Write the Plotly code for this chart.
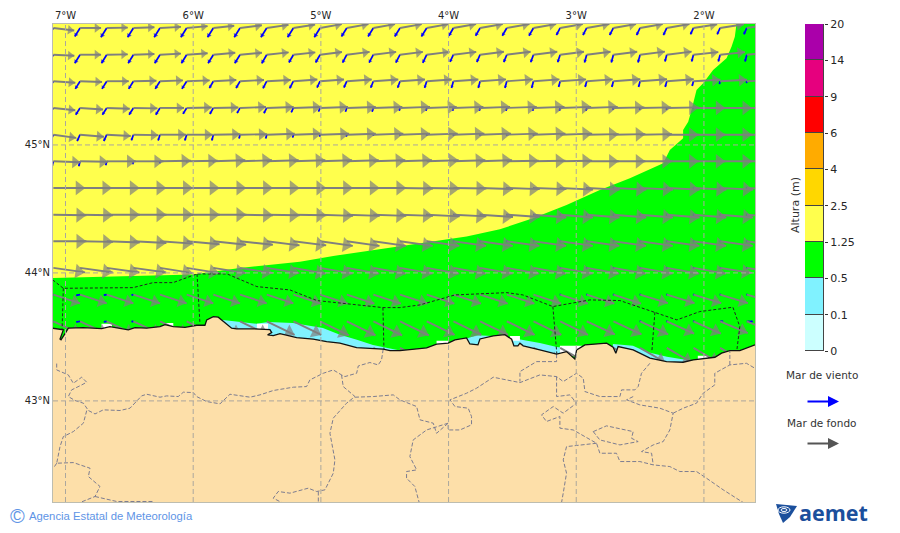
import math
import plotly.graph_objects as go

# map window
lon_range = [-7.098, -1.6]
lat_range = [42.21, 45.945]
lon_ticks = [-7, -6, -5, -4, -3, -2]
lon_labels = ["7°W", "6°W", "5°W", "4°W", "3°W", "2°W"]
lat_ticks = [43, 44, 45]
lat_labels = ["43°N", "44°N", "45°N"]

# wave height zones (lon/lat outlines)
green_lon = [-7.10, -6.417, -6.002, -5.634, -5.164, -4.903, -4.642, -4.381, -4.122, -3.859, -3.598, -3.339, -3.076,
             -2.815, -2.580, -2.319, -2.267, -2.163, -2.163, -2.123, -2.097, -2.058, -2.006, -1.928, -1.823, -1.784,
             -1.758, -1.745, -1.6, -1.6, -7.10]
green_lat = [43.961, 43.977, 43.988, 44.039, 44.088, 44.133, 44.172, 44.211, 44.245, 44.284, 44.341, 44.427, 44.531,
             44.648, 44.740, 44.857, 44.961, 45.052, 45.117, 45.182, 45.273, 45.430, 45.482, 45.586, 45.677, 45.768,
             45.846, 45.945, 45.945, 42.21, 42.21]
cyan_lon = [-5.767, -5.501, -5.414, -5.219, -4.984, -4.851, -4.718, -4.592, -4.381, -4.381, -5.767, None,
            -3.872, -3.778, -3.661, -3.661, -3.872, None,
            -3.504, -3.418, -3.285, -3.152, -3.09, -3.09, -3.504, None,
            -2.713, -2.556, -2.447, -2.290, -2.134, -2.134, -2.713]
cyan_lat = [43.633, 43.602, 43.617, 43.609, 43.570, 43.516, 43.477, 43.4375, 43.393, 43.30, 43.50, None,
            43.484, 43.512, 43.508, 43.44, 43.44, None,
            43.492, 43.477, 43.453, 43.422, 43.414, 43.30, 43.40, None,
            43.445, 43.430, 43.383, 43.344, 43.320, 43.25, 43.30]
white_lon = [-6.718, -6.636, -6.636, -6.718, None, -6.221, -6.156, -6.156, -6.221, None,
             -5.501, -5.414, -5.414, -5.501, None, -4.094, -4.003, -4.003, -4.094, None,
             -3.519, -3.441, -3.441, -3.519, None, -3.128, -2.956, -2.956, -3.128, None,
             -2.048, -1.969, -1.969, -2.048]
white_lat = [43.602, 43.602, 43.56, 43.56, None, 43.609, 43.609, 43.578, 43.578, None,
             43.602, 43.602, 43.56, 43.56, None, 43.469, 43.469, 43.4375, 43.4375, None,
             43.508, 43.508, 43.469, 43.469, None, 43.43, 43.43, 43.35, 43.35, None,
             43.352, 43.352, 43.32, 43.32]

# coastline west to east
coast_lon = [-7.10, -7.043, -7.017, -7.043, -7.035, -7.0, -6.978, -6.861, -6.717, -6.652, -6.573, -6.508, -6.456,
             -6.364, -6.260, -6.221, -6.156, -6.064, -5.973, -5.908, -5.894, -5.843, -5.804, -5.751, -5.699,
             -5.660, -5.530, -5.399, -5.385, -5.417, -5.373, -5.320, -5.190, -5.060, -4.955, -4.851, -4.720,
             -4.512, -4.459, -4.381, -4.250, -4.172, -4.094, -4.003, -3.950, -3.859, -3.833, -3.770, -3.754,
             -3.650, -3.559, -3.506, -3.488, -3.457, -3.441, -3.415, -3.285, -3.154, -3.076, -3.011, -2.997,
             -2.932, -2.762, -2.711, -2.690, -2.672, -2.554, -2.423, -2.293, -2.163, -2.084, -1.979, -1.914,
             -1.862, -1.797, -1.719, -1.6]
coast_lat = [43.568, 43.560, 43.555, 43.484, 43.477, 43.531, 43.568, 43.573, 43.565, 43.580, 43.568, 43.555, 43.573,
             43.568, 43.580, 43.596, 43.580, 43.575, 43.591, 43.591, 43.633, 43.659, 43.654, 43.607, 43.568,
             43.563, 43.563, 43.557, 43.534, 43.516, 43.510, 43.526, 43.495, 43.482, 43.463, 43.451, 43.416,
             43.404, 43.393, 43.393, 43.409, 43.414, 43.443, 43.451, 43.477, 43.492, 43.445, 43.4375, 43.484,
             43.508, 43.518, 43.482, 43.43, 43.43, 43.451, 43.430, 43.398, 43.365, 43.385, 43.328, 43.398,
             43.4375, 43.451, 43.420, 43.373, 43.424, 43.398, 43.334, 43.307, 43.302, 43.320, 43.334, 43.341,
             43.373, 43.393, 43.393, 43.4375]
land_corner_lon = [-1.6, -7.10]
land_corner_lat = [42.21, 42.21]

# maritime zones
zone_lon = [-7.10, -7.017, -6.471, -6.315, -6.158, -5.970, -5.735, -5.501, -5.242, -5.031, -4.514, -4.381, -4.224,
            -3.95, -3.543, -3.418, -3.183, -2.893, -2.658, -2.384, -2.212, -2.032, -1.773, -1.719, -1.742, None,
            -7.017, -7.027, None, -5.970, -5.947, None, -4.514, -4.506, None, -3.183, -3.152, None, -2.384, -2.408]
zone_lat = [43.945, 43.880, 43.885, 43.924, 43.924, 43.992, 43.992, 43.893, 43.867, 43.784, 43.729, 43.729, 43.75,
            43.828, 43.846, 43.828, 43.737, 43.789, 43.784, 43.693, 43.633, 43.698, 43.732, 43.580, 43.398, None,
            43.880, 43.555, None, 43.992, 43.602, None, 43.729, 43.406, None, 43.737, 43.367, None, 43.693, 43.383]

# province borders
border_lon = [-4.512, -4.525, -4.551, -4.616, -4.707, -4.720, -4.812, -4.838, -4.903, -4.981, -5.086, -5.112, -5.216,
              -5.373, -5.477, -5.555, -5.712, -5.790, -5.895, -5.973, -5.999, -6.077, -6.117, -6.208, -6.260, -6.365,
              -6.404, -6.456, -6.495, -6.573, -6.704, -6.769, -6.821, -6.860, -6.926, -6.978, -6.952, -6.873, -6.834,
              -6.873, -6.939, -6.978, -7.069, -7.069, None,
              -6.834, -6.860, -6.939, -7.017, -7.043, -7.069, -6.939, -6.808, -6.821, -6.730, -6.769, -6.886, None,
              -7.069, -7.095, None, -6.769, -6.599, -6.312, None,
              -4.838, -4.825, -4.733, -4.799, -4.903, -4.929, -4.890, -4.903, -4.968, -5.033, -5.099, -5.242, -5.334,
              -5.373, -5.307, None, -5.020, -5.020, None,
              -4.733, -4.590, -4.433, -4.381, -4.250, -4.224, -4.120, -4.094, -4.003, -4.003, -3.911, -3.820, -3.820,
              -3.846, -3.950, -3.989, -3.859, -3.781, -3.650, -3.441, -3.285, -3.154, -3.102, -2.998, -2.945, -2.932,
              -2.815, -2.658, -2.645, -2.541, -2.515, -2.489, -2.423, None,
              -3.154, -3.154, -3.311, -3.441, -3.441, None,
              -3.154, -3.154, -3.050, -2.998, -3.102, -3.180, -3.272, -3.233, -3.128, -3.128, -3.024, -2.841, -2.815,
              -2.685, -2.658, -2.502, -2.397, -2.267, -2.189, -2.058, -1.980, -1.849, -1.693, None,
              -2.554, -2.606, -2.502, -2.345, -2.241, -2.267, -2.319, -2.397, -2.489, -2.410, -2.397, None,
              -2.241, -2.162, -2.058, -2.006, -1.915, -1.915, -1.797, -1.667, -1.601, None,
              -1.797, -1.797, None,
              -2.867, -2.763, -2.554, -2.567, -2.515, -2.658, -2.815, -2.867, None,
              -2.841, -3.076, -3.102, -3.076, -3.102, -3.115, None,
              -4.003, -4.172, -4.277, -4.303, -4.250, -4.329, -4.329, -4.264, -4.230]
border_lat = [43.404, 43.320, 43.281, 43.300, 43.273, 43.216, 43.190, 43.203, 43.242, 43.216, 43.164, 43.112, 43.107,
              43.081, 43.047, 43.029, 43.052, 42.977, 42.995, 43.034, 43.065, 43.068, 43.034, 43.039, 43.029, 43.052,
              43.039, 42.982, 42.943, 42.925, 42.930, 42.898, 42.925, 42.982, 43.003, 43.034, 43.086, 43.125, 43.146,
              43.185, 43.138, 43.203, 43.242, 43.307, None,
              42.924, 42.826, 42.760, 42.721, 42.643, 42.513, 42.518, 42.474, 42.409, 42.331, 42.253, 42.206, None,
              42.513, 42.474, None, 42.253, 42.214, 42.214, None,
              43.203, 43.112, 43.034, 42.982, 42.865, 42.747, 42.539, 42.435, 42.305, 42.292, 42.318, 42.279, 42.292,
              42.240, 42.206, None, 42.292, 42.206, None,
              43.029, 43.034, 43.047, 43.008, 42.956, 42.852, 42.826, 42.747, 42.826, 42.773, 42.773, 42.813, 42.878,
              42.943, 42.956, 43.008, 43.060, 43.099, 43.185, 43.143, 43.203, 43.190, 43.151, 43.216, 43.177, 43.073,
              43.034, 43.034, 43.086, 43.086, 43.112, 43.216, 43.294, None,
              43.365, 43.307, 43.307, 43.229, 43.151, None,
              43.190, 43.034, 43.047, 42.982, 42.904, 42.956, 42.891, 42.839, 42.878, 42.787, 42.773, 42.669, 42.591,
              42.591, 42.526, 42.526, 42.500, 42.487, 42.448, 42.448, 42.396, 42.305, 42.206, None,
              43.034, 43.008, 42.969, 42.943, 42.904, 42.773, 42.682, 42.656, 42.604, 42.591, 42.500, None,
              42.904, 42.943, 42.982, 43.060, 43.125, 43.216, 43.281, 43.294, 43.255, None,
              43.281, 43.386, None,
              42.760, 42.805, 42.760, 42.708, 42.682, 42.656, 42.695, 42.760, None,
              42.669, 42.643, 42.539, 42.435, 42.279, 42.206, None,
              42.826, 42.773, 42.695, 42.565, 42.461, 42.448, 42.396, 42.331, 42.206]

# arrow grid
grid_lon = [-7.095, -6.886, -6.677, -6.468, -6.260, -6.051, -5.842, -5.633, -5.424, -5.215, -5.006, -4.797, -4.589,
            -4.380, -4.171, -3.962, -3.753, -3.544, -3.335, -3.126, -2.918, -2.709, -2.500, -2.291, -2.082, -1.873,
            -1.664]
grid_lat = [45.914, 45.705, 45.498, 45.289, 45.080, 44.872, 44.664, 44.455, 44.247, 44.039, 43.830, 43.622, 43.414]

# swell (mar de fondo): bearing in degrees and size, one list per grid row
swell_dir = [
    [97, 90, 89, 88, 87, 85, 84, 83, 82, 81, 80, 80, 80, 80, 80, 80, 80, 80, 80, 80, 80, 80, 80, 80, 81, 81, 82],
    [93, 90, 89, 88, 87, 86, 85, 85, 84, 84, 83, 83, 83, 83, 83, 83, 83, 83, 83, 83, 83, 83, 83, 83, 84, 84, 85],
    [94, 92, 90, 89, 88, 88, 87, 87, 87, 86, 86, 86, 86, 86, 86, 86, 86, 86, 86, 86, 86, 86, 86, 86, 87, 87, 88],
    [96, 94, 92, 91, 90, 89, 89, 88, 88, 88, 88, 88, 88, 88, 88, 88, 88, 88, 88, 88, 88, 89, 89, 89, 90, 90, 90],
    [98, 95, 93, 91, 90, 90, 89, 89, 88, 88, 88, 88, 88, 88, 88, 88, 88, 88, 88, 88, 89, 89, 89, 90, 90, 90, 90],
    [92, 91, 90, 90, 89, 89, 88, 88, 88, 88, 88, 88, 88, 88, 88, 88, 88, 89, 89, 89, 90, 90, 90, 90, 90, 90, 90],
    [90, 90, 90, 90, 90, 90, 90, 90, 90, 90, 90, 90, 90, 91, 91, 91, 92, 92, 92, 93, 93, 93, 93, 93, 93, 93, 93],
    [91, 91, 90, 90, 90, 90, 90, 91, 91, 91, 92, 92, 92, 92, 93, 93, 94, 94, 95, 95, 95, 95, 95, 95, 95, 95, 95],
    [90, 91, 92, 93, 94, 95, 96, 96, 97, 97, 98, 98, 98, 98, 98, 98, 98, 98, 98, 98, 98, 98, 98, 98, 98, 98, 98],
    [98, 98, 98, 98, 99, 99, 99, 99, 99, 100, 100, 100, 100, 100, 100, 100, 100, 100, 100, 100, 100, 100, 100, 100, 100, 99, 99],
    [108, 108, 108, 108, 108, 108, 108, 108, 108, 108, 108, 108, 108, 108, 108, 108, 108, 108, 108, 108, 108, 108, 107, 107, 107, 107, 106],
    [115, 115, 115, 115, 115, 116, 116, 116, 116, 116, 116, 116, 116, 116, 116, 116, 116, 116, 116, 116, 115, 115, 115, 114, 114, 113, 113],
    [118, 118, 118, 118, 118, 118, 118, 118, 118, 118, 118, 118, 118, 118, 118, 118, 118, 118, 118, 119, 119, 120, 120, 120, 120, 120, 120],
]
swell_size = [
    [21, 21, 21, 21, 21, 21, 21, 22, 22, 22, 22, 22, 22, 22, 22, 23, 23, 23, 23, 23, 23, 23, 23, 23, 24, 24, 24],
    [21, 21, 21, 21, 21, 21, 22, 22, 22, 22, 22, 23, 23, 23, 23, 23, 24, 24, 24, 24, 24, 24, 25, 25, 25, 25, 25],
    [22, 22, 22, 23, 23, 23, 23, 24, 24, 24, 24, 25, 25, 25, 25, 25, 26, 26, 26, 26, 26, 27, 27, 27, 27, 27, 27],
    [22, 23, 23, 24, 24, 25, 25, 26, 27, 28, 28, 29, 29, 30, 30, 30, 30, 30, 31, 31, 31, 31, 31, 32, 32, 32, 32],
    [23, 24, 24, 25, 26, 26, 27, 27, 28, 28, 29, 29, 30, 30, 31, 31, 31, 31, 32, 32, 32, 32, 32, 32, 32, 32, 32],
    [27, 28, 29, 30, 31, 31, 32, 32, 32, 32, 32, 32, 32, 32, 32, 32, 32, 32, 32, 32, 32, 32, 32, 32, 32, 32, 32],
    [32, 32, 33, 33, 33, 33, 33, 33, 33, 33, 33, 33, 33, 33, 33, 33, 33, 33, 33, 33, 33, 33, 33, 33, 33, 33, 33],
    [33, 33, 33, 33, 33, 33, 33, 33, 33, 33, 33, 33, 33, 33, 33, 33, 33, 33, 33, 33, 33, 33, 33, 33, 33, 33, 33],
    [33, 33, 33, 33, 33, 33, 33, 33, 33, 33, 33, 33, 33, 33, 33, 33, 33, 33, 33, 33, 33, 33, 33, 33, 33, 33, 33],
    [32, 33, 33, 33, 33, 33, 33, 33, 33, 33, 33, 33, 33, 33, 33, 33, 33, 33, 33, 33, 33, 33, 33, 33, 33, 32, 32],
    [28, 28, 28, 28, 28, 28, 28, 28, 28, 29, 29, 29, 29, 29, 29, 29, 29, 29, 29, 29, 29, 29, 29, 29, 29, 29, 29],
    [30, 30, 30, 30, 31, 31, 31, 31, 31, 31, 32, 32, 32, 32, 31, 31, 31, 31, 31, 31, 31, 31, 31, 30, 30, 30, 30],
    [29, 29, 29, 29, 29, 29, 29, 29, 29, 29, 29, 29, 29, 29, 29, 29, 29, 29, 29, 29, 29, 29, 29, 29, 29, 29, 29],
]

# wind sea (mar de viento), same grid
wind_dir = [
    [212, 212, 212, 212, 212, 212, 212, 212, 212, 212, 212, 212, 212, 212, 212, 210, 210, 210, 210, 208, 208, 208, 206, 205, 205, 205, 205],
    [212, 212, 212, 212, 212, 212, 212, 212, 210, 210, 210, 208, 208, 208, 206, 205, 204, 202, 200, 198, 196, 195, 195, 195, 195, 195, 195],
    [212, 212, 212, 212, 212, 212, 210, 210, 208, 208, 206, 204, 202, 200, 198, 196, 195, 195, 195, 195, 195, 195, 195, 195, 195, 195, 190],
    [213, 213, 213, 213, 212, 212, 210, 210, 208, 206, 204, 200, 198, 196, 195, 195, 195, 195, 195, 195, 195, 195, 195, 190, 190, 190, 190],
    [205, 205, 205, 200, 198, 198, 195, 195, 195, 195, 195, 195, 195, 190, 190, 190, 190, 190, 190, 190, 190, 190, 190, 190, 190, 190, 190],
    [195, 195, 195, 195, 190, 190, 190, 190, 190, 190, 190, 190, 190, 190, 190, 190, 190, 190, 190, 190, 190, 190, 190, 190, 190, 190, 190],
    [90, 90, 90, 90, 90, 90, 90, 90, 90, 90, 90, 90, 90, 90, 90, 90, 90, 90, 90, 90, 90, 90, 90, 90, 90, 90, 90],
    [90, 90, 90, 90, 90, 90, 90, 90, 90, 90, 90, 90, 90, 90, 90, 90, 90, 90, 90, 90, 90, 90, 90, 90, 90, 90, 90],
    [90, 90, 90, 90, 90, 90, 90, 90, 90, 90, 90, 90, 90, 90, 90, 90, 90, 90, 90, 90, 90, 90, 90, 90, 90, 90, 90],
    [90, 90, 90, 90, 90, 90, 90, 90, 90, 90, 90, 90, 90, 90, 90, 90, 90, 90, 90, 90, 90, 90, 90, 90, 90, 90, 90],
    [260, 260, 260, 260, 90, 90, 90, 90, 90, 90, 90, 90, 90, 90, 90, 90, 90, 90, 90, 90, 90, 90, 90, 90, 90, 90, 90],
    [260, 260, 260, 260, 90, 90, 90, 90, 90, 90, 90, 90, 90, 90, 90, 90, 90, 90, 90, 90, 90, 90, 90, 90, 90, 92, 92],
]
wind_size = [
    [10, 10, 11, 11, 11, 11, 11, 11, 11, 11, 11, 10, 10, 10, 10, 9, 9, 9, 9, 8, 8, 8, 8, 8, 7, 7, 7],
    [10, 10, 10, 10, 10, 10, 10, 10, 10, 9, 9, 9, 9, 9, 9, 8, 8, 8, 8, 8, 8, 8, 8, 7, 7, 7, 7],
    [9, 9, 9, 9, 9, 9, 8, 8, 8, 8, 7, 7, 7, 7, 7, 7, 7, 7, 7, 6, 6, 6, 6, 6, 5, 3, 2],
    [9, 8, 8, 8, 8, 7, 7, 6, 6, 5, 4, 4, 4, 3, 3, 3, 3, 3, 3, 3, 3, 2, 2, 2, 1, 1, 1],
    [7, 7, 7, 6, 6, 6, 6, 4, 4, 3, 2, 2, 1, 1, 1, 1, 1, 1, 1, 0, 0, 0, 0, 0, 0, 0, 0],
    [5, 5, 4, 3, 2, 1, 1, 0, 0, 0, 0, 0, 0, 0, 0, 0, 0, 0, 0, 0, 0, 0, 0, 0, 0, 0, 0],
    [0, 0, 0, 0, 0, 0, 0, 0, 0, 0, 0, 0, 0, 0, 0, 0, 1, 1, 1, 1, 1, 1, 1, 1, 1, 1, 1],
    [0, 0, 0, 0, 0, 0, 0, 0, 0, 0, 0, 0, 0, 0, 1, 1, 1, 1, 1, 1, 1, 1, 1, 1, 1, 1, 1],
    [0, 0, 0, 0, 0, 0, 0, 0, 0, 0, 0, 0, 0, 0, 0, 1, 1, 1, 1, 1, 1, 1, 1, 1, 1, 1, 1],
    [0, 0, 0, 0, 0, 0, 0, 0, 0, 0, 0, 0, 0, 0, 0, 0, 0, 0, 0, 1, 1, 1, 1, 1, 1, 1, 1],
    [2, 4, 3, 2, 0, 0, 0, 0, 0, 0, 0, 0, 0, 0, 0, 0, 0, 0, 0, 1, 1, 1, 1, 1, 1, 1, 1],
    [2, 4, 3, 2, 0, 0, 0, 0, 0, 0, 0, 0, 0, 0, 0, 0, 0, 0, 0, 0, 0, 0, 1, 1, 1, 3, 6],
]
wind_rows = [0, 1, 2, 3, 4, 5, 6, 7, 8, 9, 10, 11]

# colour scale
level_labels = ["0", "0.1", "0.5", "1.25", "2.5", "4", "6", "9", "14", "20"]
level_colors = ["#CCFFFF", "#80F2FF", "#00FF00", "#FFFF4D", "#FFD700", "#FFAB00", "#FF0000", "#E6007E", "#AA00AA"]

YELLOW = "#FFFF4D"
GREEN = "#00FF00"
CYAN = "#80F2FF"
LAND = "#FDDFA9"
PX_PER_DEG = 127.7
# the page body has an 8px margin, so the figure sits at (8, 8)
FIG_W = 892
FIG_H = 525


def px(x):
    return (x - 8) / FIG_W


def py(y):
    return 1 - (y - 8) / FIG_H


def area(lon, lat, color):
    return go.Scatter(x=lon, y=lat, mode="lines", fill="toself", fillcolor=color, line=dict(width=0),
                      hoverinfo="skip", showlegend=False)


def arrows(dirs, sizes, rows, color, width, head):
    # one trace for the shafts, one for the heads (land is painted on top of both)
    sx, sy, hx, hy, ang, hs = [], [], [], [], [], []
    for r, dir_row, size_row in zip(rows, dirs, sizes):
        for lon, d, s in zip(grid_lon, dir_row, size_row):
            if s == 0:
                continue
            lat = grid_lat[r]
            east = math.sin(math.radians(d)) / PX_PER_DEG
            north = math.cos(math.radians(d)) / PX_PER_DEG
            sx += [lon, lon + s * east, None]
            sy += [lat, lat + s * north, None]
            # triangle markers are centred half their size behind the tip
            marker_size = max(head * s, 2)
            hx.append(lon + (s - marker_size / 2) * east)
            hy.append(lat + (s - marker_size / 2) * north)
            ang.append(d)
            hs.append(marker_size)
    shafts = go.Scatter(x=sx, y=sy, mode="lines", line=dict(color=color, width=width),
                        hoverinfo="skip", showlegend=False)
    heads = go.Scatter(x=hx, y=hy, mode="markers",
                       marker=dict(symbol="triangle-up", size=hs, angle=ang, color=color, line=dict(width=0)),
                       hoverinfo="skip", showlegend=False)
    return [shafts, heads]


def label(text, x, y, size=10.5, color="#333333", family="DejaVu Sans", anchor="center", angle=0):
    fig.add_annotation(text=text, x=px(x), y=py(y), xref="paper", yref="paper", xanchor=anchor, yanchor="middle",
                       textangle=angle, showarrow=False, font=dict(family=family, size=size, color=color))


fig = go.Figure()

# sea
fig.add_trace(area([lon_range[0], lon_range[1], lon_range[1], lon_range[0]],
                   [lat_range[0], lat_range[0], lat_range[1], lat_range[1]], YELLOW))
fig.add_trace(area(green_lon, green_lat, GREEN))
fig.add_trace(area(cyan_lon, cyan_lat, CYAN))
fig.add_trace(area(white_lon, white_lat, "white"))

# arrows
fig.add_traces(arrows(wind_dir, wind_size, wind_rows, "#0000FF", 1.7, 0.42))
fig.add_traces(arrows(swell_dir, swell_size, range(len(grid_lat)), "#7F7F7F", 1.9, 0.4))

# land on top of the arrows
fig.add_trace(area(coast_lon + land_corner_lon, coast_lat + land_corner_lat, LAND))
fig.add_trace(go.Scatter(x=border_lon, y=border_lat, mode="lines", line=dict(color="#7C7C90", width=1, dash="4px,2px"),
                         hoverinfo="skip", showlegend=False))
fig.add_trace(go.Scatter(x=coast_lon, y=coast_lat, mode="lines", line=dict(color="#111111", width=1.3),
                         hoverinfo="skip", showlegend=False))
fig.add_trace(go.Scatter(x=zone_lon, y=zone_lat, mode="lines", line=dict(color="#222222", width=1, dash="3px,2px"),
                         hoverinfo="skip", showlegend=False))

# dashed graticule over everything
for lon in lon_ticks:
    fig.add_shape(type="line", xref="x", yref="y", x0=lon, x1=lon, y0=lat_range[0], y1=lat_range[1],
                  line=dict(color="#ABA79E", width=1, dash="5px,3px"))
for lat in lat_ticks:
    fig.add_shape(type="line", xref="x", yref="y", x0=lon_range[0], x1=lon_range[1], y0=lat, y1=lat,
                  line=dict(color="#ABA79E", width=1, dash="5px,3px"))

# colour bar
for color in level_colors:
    fig.add_trace(go.Bar(x=[0], y=[1], marker=dict(color=color, line=dict(color="#444444", width=1)),
                         xaxis="x2", yaxis="y2", hoverinfo="skip", showlegend=False))

label("Altura (m)", 795, 205, size=11, angle=-90)
label("Mar de viento", 821.5, 375)
label("Mar de fondo", 821.5, 423)
fig.add_annotation(text="", x=px(839), y=py(401.5), xref="paper", yref="paper", ax=-33, ay=0,
                   arrowhead=2, arrowsize=1.1, arrowwidth=2, arrowcolor="#0000FF", showarrow=True)
fig.add_annotation(text="", x=px(839), y=py(443.5), xref="paper", yref="paper", ax=-33, ay=0,
                   arrowhead=2, arrowsize=1.1, arrowwidth=2, arrowcolor="#555555", showarrow=True)

# footer
label("©", 17, 515.5, size=20, color="#5E94E6", family="Liberation Sans")
label("Agencia Estatal de Meteorología", 26.5, 516, size=11.3, color="#5E94E6", family="Liberation Sans", anchor="left")
label("<b>aemet</b>", 797, 512, size=21.5, color="#1B4F9C", family="Open Sans", anchor="left")

# aemet mark
logo_blue = "#1B4F9C"
fig.add_shape(type="path", xref="paper", yref="paper", fillcolor=logo_blue, line=dict(width=0),
              path=f"M{px(776)},{py(504)} L{px(797)},{py(506)} L{px(790)},{py(517)} L{px(783)},{py(523)} "
                   f"L{px(779)},{py(514)} Z")
for rx, ry in [(6, 3.2), (3, 1.5)]:
    fig.add_shape(type="circle", xref="paper", yref="paper", line=dict(color="white", width=1),
                  x0=px(784 - rx), x1=px(784 + rx), y0=py(510 + ry), y1=py(510 - ry))

fig.update_layout(
    width=FIG_W,
    height=FIG_H,
    margin=dict(l=0, r=0, t=0, b=0),
    paper_bgcolor="white",
    plot_bgcolor="white",
    barmode="stack",
    bargap=0,
    font=dict(family="DejaVu Sans", size=10, color="#262626"),
    xaxis=dict(domain=[px(53), px(755)], range=lon_range, side="top", tickvals=lon_ticks, ticktext=lon_labels,
               automargin=False, showgrid=False, zeroline=False, ticks="", showline=True, mirror=True,
               linecolor="#BDBDB0", linewidth=1),
    yaxis=dict(domain=[py(502), py(24)], range=lat_range, tickvals=lat_ticks, ticktext=lat_labels,
               automargin=False, showgrid=False, zeroline=False, ticks="", showline=True, mirror=True,
               linecolor="#BDBDB0", linewidth=1),
    xaxis2=dict(domain=[px(805), px(824)], range=[-0.5, 0.5], anchor="y2", visible=False, automargin=False),
    yaxis2=dict(domain=[py(351), py(24)], range=[0, 9], anchor="x2", side="right", tickvals=list(range(10)),
                ticktext=level_labels, tickfont=dict(size=11), showgrid=False, zeroline=False, ticks="outside",
                ticklen=3, tickcolor="#333333", showline=False, automargin=False),
)

fig.write_html("out.html")
